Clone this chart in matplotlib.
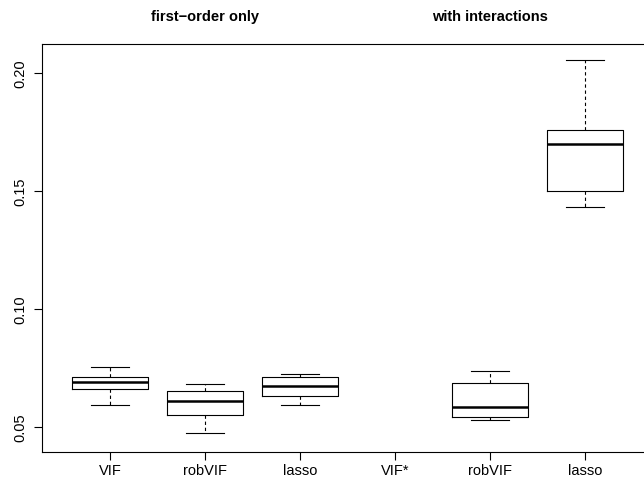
import numpy as np
import matplotlib
matplotlib.use("Agg")
import matplotlib.pyplot as plt
import matplotlib.transforms as mtransforms

plt.rcParams['font.family'] = ['Liberation Sans', 'DejaVu Sans']

# Box summaries per method (NaN = no result for that method)
labels = ["VIF", "robVIF", "lasso", "VIF*", "robVIF", "lasso"]
whislo = [0.0596, 0.0478, 0.0596, np.nan, 0.0532, 0.1434]
q1     = [0.0661, 0.0553, 0.0633, np.nan, 0.0546, 0.1502]
med    = [0.0691, 0.0612, 0.0677, np.nan, 0.0588, 0.1700]
q3     = [0.0712, 0.0656, 0.0712, np.nan, 0.0690, 0.1759]
whishi = [0.0754, 0.0684, 0.0726, np.nan, 0.0740, 0.2055]
group_titles = ["first\u2212order only", "with interactions"]
group_centers = [2, 5]

fig = plt.figure(figsize=(6.44, 4.79), dpi=100)
ax = fig.add_axes([42/644, 1-452/479, (653-42)/644, (452-44)/479])

positions = np.arange(1, len(labels) + 1)
stats, pos = [], []
for i, p in enumerate(positions):
    if np.isnan(med[i]):
        continue
    stats.append(dict(med=med[i], q1=q1[i], q3=q3[i],
                      whislo=whislo[i], whishi=whishi[i], fliers=[]))
    pos.append(p)

ax.bxp(stats, positions=pos, widths=0.8, capwidths=0.4, showfliers=False,
       boxprops=dict(color='black', linewidth=0.8),
       medianprops=dict(color='black', linewidth=1.8, solid_capstyle='butt'),
       whiskerprops=dict(color='black', linewidth=0.8, linestyle=(0, (3, 2.5))),
       capprops=dict(color='black', linewidth=0.8))

ax.set_xlim(0.28, 6.72)
ax.set_ylim(0.0396, 0.2124)
ax.set_xticks(positions)
ax.set_xticklabels(labels, fontsize=10.5)
ax.set_yticks([0.05, 0.10, 0.15, 0.20])
ax.set_yticklabels(["0.05", "0.10", "0.15", "0.20"], fontsize=10.5,
                   rotation=90, va='center')
ax.tick_params(axis='both', length=5.5, width=0.8, color='black')
ax.tick_params(axis='x', pad=3)
ax.tick_params(axis='y', pad=5)
for s in ax.spines.values():
    s.set_linewidth(0.8)
    s.set_color('black')

trans = mtransforms.blended_transform_factory(ax.transData, fig.transFigure)
for t, xc in zip(group_titles, group_centers):
    ax.text(xc, 1 - 17/479, t, transform=trans, ha='center', va='center',
            fontsize=10.5, fontweight='bold')

fig.savefig("out.png", dpi=100)
